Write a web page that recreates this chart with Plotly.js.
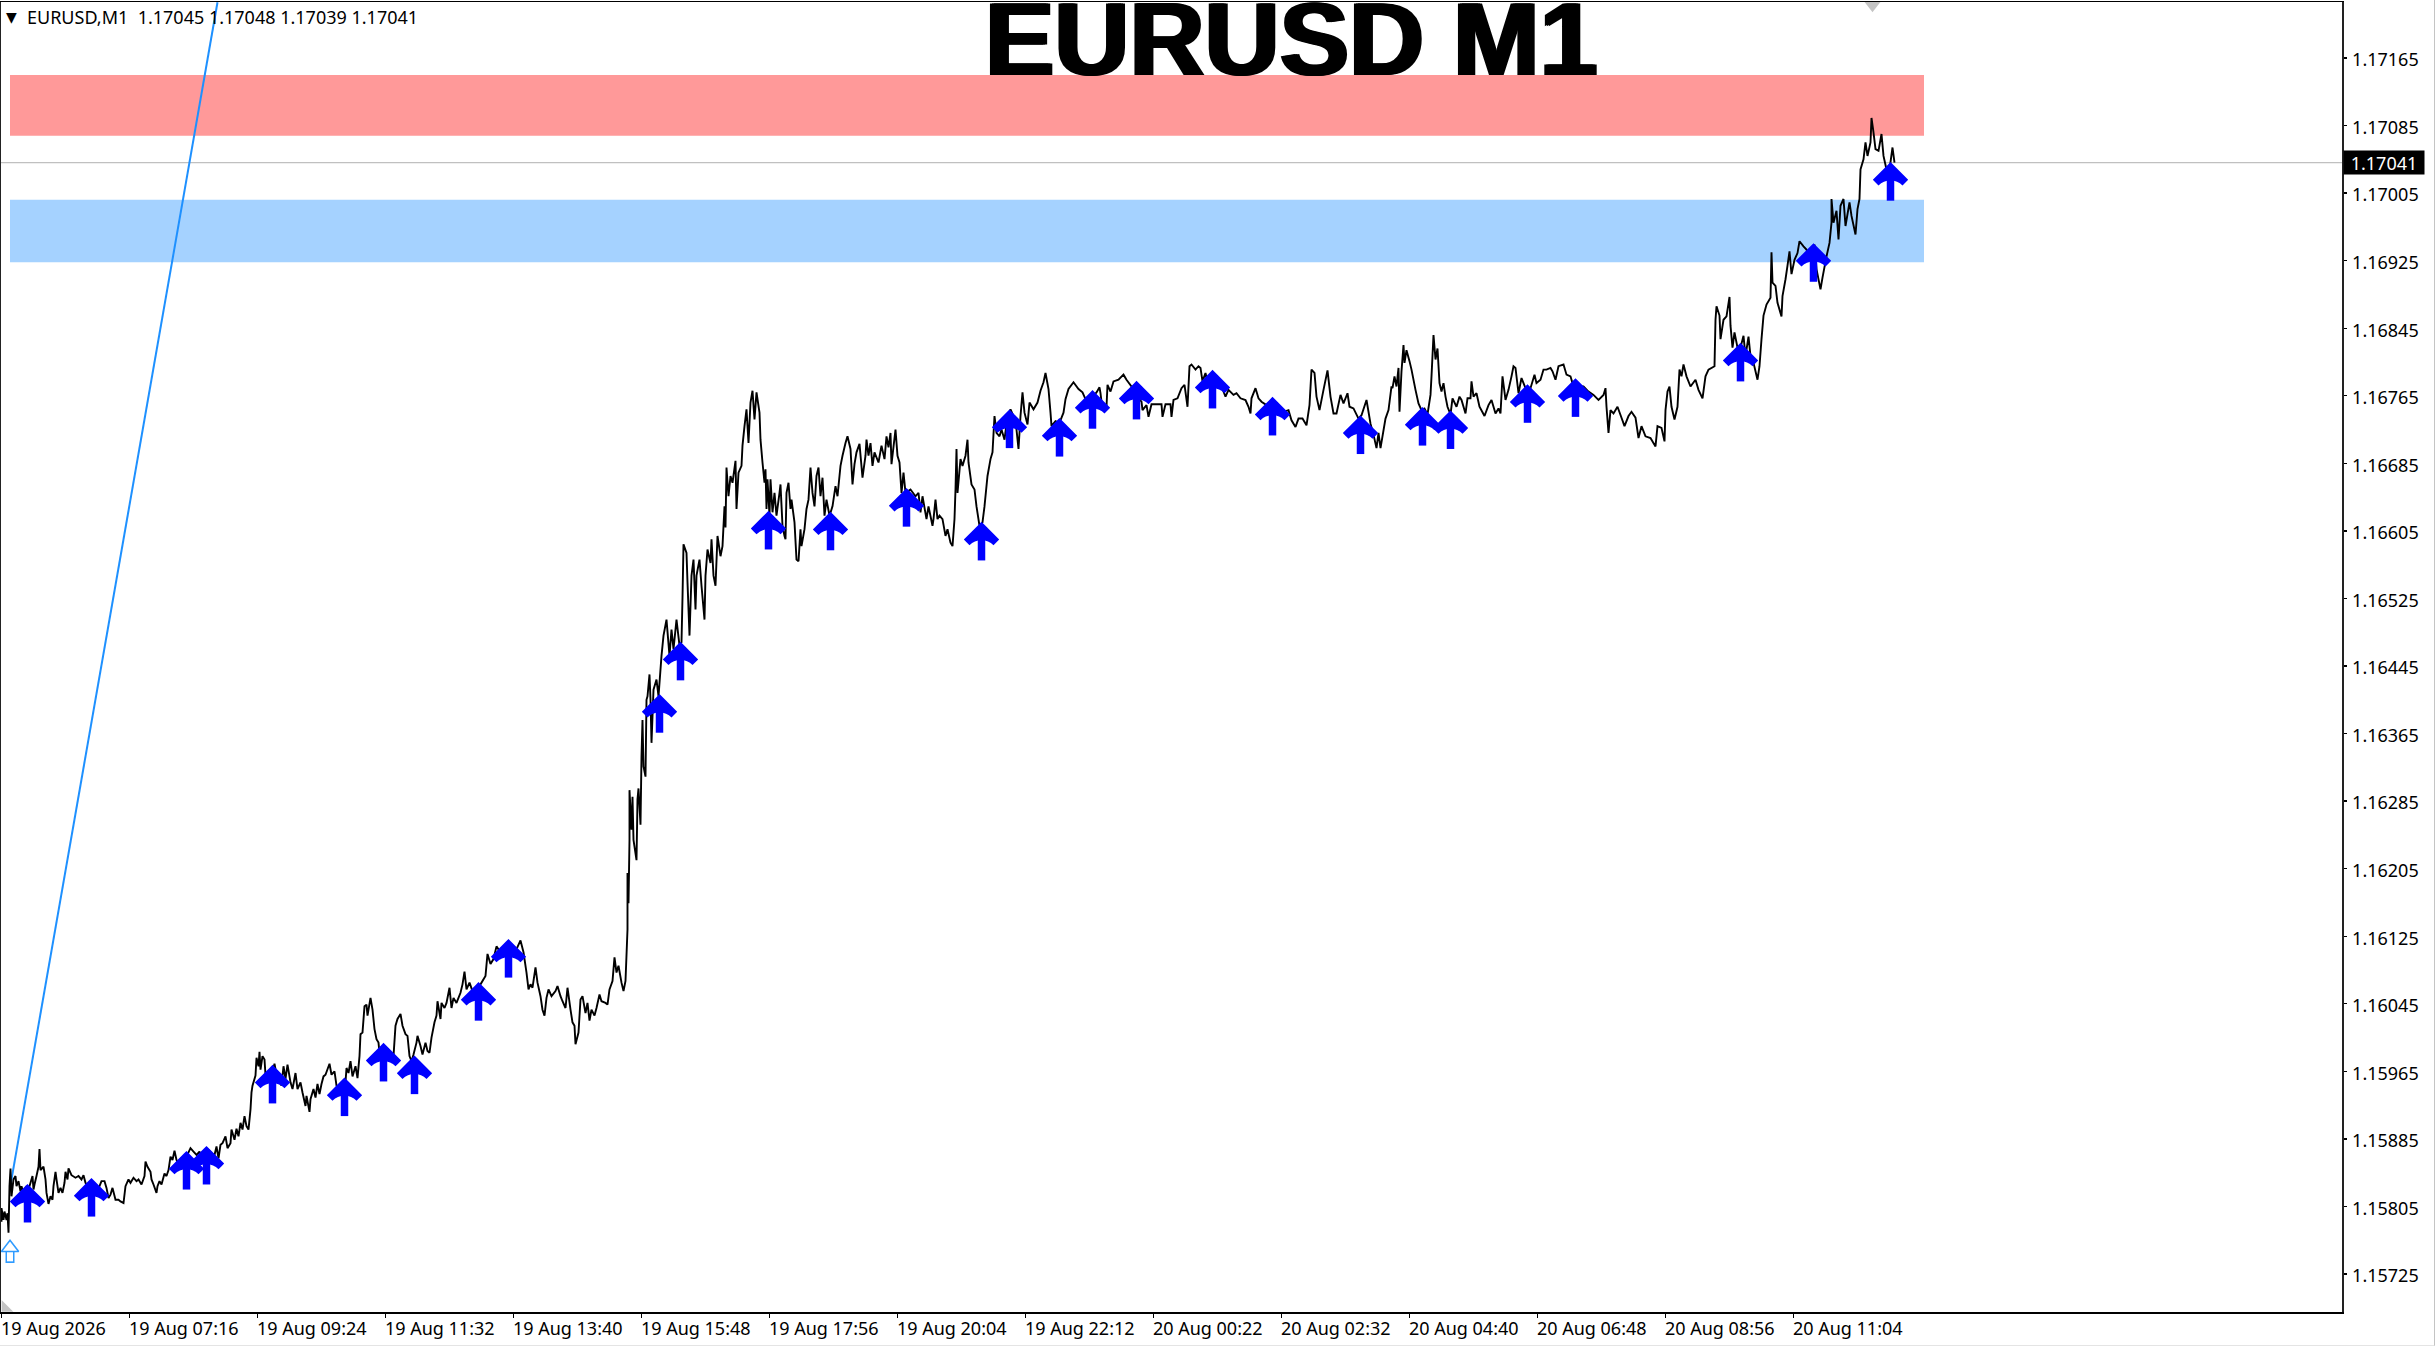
<!DOCTYPE html>
<html><head><meta charset="utf-8">
<script src="https://cdn.plot.ly/plotly-3.0.1.min.js"></script>
<style>html,body{margin:0;padding:0;background:#fff}#c{width:2434px;height:1345px;border-right:1px solid #c4c4c4;border-bottom:1px solid #e4e4e4}</style>
</head><body><div id="c"></div>
<script>
// Price path: bar number (minutes from the first bar) and price in 1/100000 above 1.
const pathBars = [0,0,2,3,5,6,7,8,9,10,12,14,15,17,19,20,22,25,27,29,31,32,33,35,37,38,39,42,44,45,47,49,51,52,54,55,57,59,61,63,64,66,67,70,74,77,80,82,84,86,89,92,95,98,100,103,105,107,109,111,114,117,119,122,124,127,129,132,135,137,140,143,144,146,149,150,152,155,156,158,160,163,165,167,169,171,173,175,177,180,183,185,189,192,195,198,200,203,207,210,213,215,217,219,221,224,226,229,230,233,235,237,239,241,243,245,247,
249,250,251,254,255,257,258,259,261,263,264,267,270,273,275,277,280,282,284,286,289,291,294,296,299,301,304,305,308,309,312,314,316,318,320,322,324,328,330,333,335,340,344,345,347,349,351,354,356,358,359,361,363,365,366,369,371,373,375,377,378,382,387,392,394,396,399,401,404,406,408,410,412,415,416,419,421,424,426,428,430,433,435,436,439,440,443,445,448,450,452,455,459,461,463,465,468,471,475,479,484,486,489,492,495,499,502,509,514,519,522,525,527,529,531,534,536,539,541,543,545,547,550,554,556,559,561,564,566,569,571,573,574,577,579,581,584,586,588,590,593,595,598,600,604,606,608,611,613,615,617,620,622,624,626,
626,627,628,628,630,631,632,633,635,636,637,639,640,641,642,644,645,646,648,649,650,652,655,657,
660,662,665,668,670,672,675,678,680,681,682,685,686,688,690,692,694,695,698,700,703,704,706,709,710,712,714,716,719,721,723,724,725,727,729,731,734,735,737,740,741,743,745,747,749,751,753,755,758,759,761,763,764,765,766,768,769,771,773,775,778,779,781,783,784,785,787,789,790,793,795,797,799,800,803,805,807,809,811,813,815,817,819,821,823,825,828,831,834,836,839,841,844,846,849,851,853,855,858,861,864,865,867,869,871,873,877,880,883,885,887,889,890,894,896,898,900,902,904,909,914,917,919,921,925,927,931,932,934,936,938,941,944,946,949,951,953,954,955,956,959,961,964,966,967,970,973,975,978,981,983,986,989,991,993,995,998,1000,1003,1006,1009,1012,1015,1017,1019,1021,1023,1026,1028,1032,1036,1039,1042,1044,1047,1049,1050,1054,1058,1062,1064,1067,1072,1077,1081,1084,1089,1092,1095,1098,
1099,1100,1105,1106,1109,1112,1117,1122,1125,1130,1137,1140,1141,1145,1147,1150,1156,1160,1161,1164,1169,1170,1172,1176,1180,1183,1186,1188,1190,1194,1197,1199,1201,1204,1206,1210,1215,1220,1224,1227,1232,1235,1239,1244,1247,1249,1250,1254,1257,1260,1265,1270,1275,1282,1287,1290,1294,1297,1301,1305,1308,1310,1313,1315,1318,1322,1326,1329,1332,1335,1339,1342,1346,1348,1352,1357,1360,1365,1369,1372,1375,1377,1379,1384,1387,1390,
1391,1393,1395,1397,1398,1400,1402,1403,1405,1408,1410,1414,1417,1420,1423,1426,1429,1430,1432,1434,1436,1438,1440,1442,1444,1446,1449,1451,1455,1458,1460,1464,1466,1469,1470,1472,1475,1478,1483,1487,1490,1494,1497,1499,1501,1504,1507,1510,1512,1514,1517,1520,1524,1529,1533,1535,1539,1542,1545,1549,1551,1554,1557,1562,1565,1569,1571,1575,1582,1587,1592,1597,1602,1604,1605,1607,1609,1612,1616,1620,1623,1627,1630,1634,1637,1640,1644,1649,1654,1656,1660,1663,1664,1666,1668,1670,1673,1676,1678,1680,1682,1685,1689,1694,1697,1701,1704,1707,1713,1714,
1715,1718,1719,1722,1725,1728,1729,1731,1733,1736,1739,1742,1744,1747,1749,1752,1756,1758,1760,1762,1765,1769,1770,1771,1774,1776,1780,1781,1784,1786,1788,1790,1793,1796,1798,1802,1805,1809,1813,1815,1819,1821,1825,1828,1830,1830,1832,1835,1837,1839,1842,1844,1848,1850,1854,1856,1858,1859,1862,1864,1866,1869,1870,1872,1874,1877,1880,1882,1885,1888,1891,1893];
const pathPips = [15787,15803,15789,15799,15789,15797,15774,15829,15850,15817,15837,15841,15829,15835,15823,15829,15821,15829,15825,15833,15841,15825,15831,15841,15852,15873,15848,15852,15837,15821,15808,15817,15813,15829,15846,15837,15821,15827,15821,15833,15846,15837,15850,15842,15839,15841,15837,15842,15833,15829,15825,15819,15821,15829,15835,15835,15827,15815,15819,15827,15813,15813,15811,15809,15829,15837,15833,15839,15835,15837,15831,15841,15858,15852,15846,15837,15831,15821,15829,15835,15831,15844,15841,15848,15864,15860,15871,15860,15856,15862,15860,15864,15874,15870,15866,15870,15860,15866,15872,15868,15866,15876,15862,15878,15880,15888,15874,15880,15896,15884,15897,15888,15904,15896,15912,15900,15896,
15920,15940,15948,15960,15981,15971,15988,15967,15983,15979,15961,15952,15960,15974,15961,15955,15948,15971,15956,15973,15952,15944,15963,15944,15952,15940,15924,15936,15917,15932,15944,15934,15950,15938,15950,15959,15961,15974,15961,15965,15948,15940,15952,15969,15963,15977,15959,15971,15957,15983,16009,16011,16042,16044,16031,16052,16038,16015,16003,15999,15987,15979,15979,15983,16019,16027,16033,16019,16009,16007,15983,15977,15985,15999,16007,15995,15985,15999,15989,15987,16005,16023,16031,16048,16027,16046,16040,16046,16064,16040,16052,16046,16058,16068,16083,16062,16070,16060,16062,16068,16078,16104,16092,16098,16113,16106,16109,16113,16107,16120,16106,16082,16062,16068,16064,16088,16070,16054,16038,16031,16052,16062,16054,16060,16066,16054,16048,16040,16064,16038,16023,16019,15997,16011,16050,16054,16034,16046,16025,16038,16031,16040,16056,16048,16046,16044,16062,16072,16100,16082,16090,16070,16060,16072,16133,
16200,16164,16239,16298,16251,16290,16239,16231,16215,16287,16300,16257,16338,16381,16326,16314,16405,16409,16435,16405,16354,16417,16429,16409,
16457,16481,16500,16457,16488,16465,16500,16469,16473,16526,16589,16579,16544,16481,16552,16571,16512,16552,16571,16540,16500,16552,16583,16567,16595,16552,16540,16599,16575,16587,16634,16609,16680,16646,16670,16662,16688,16631,16674,16682,16706,16729,16749,16709,16757,16771,16737,16769,16745,16713,16686,16662,16678,16631,16666,16623,16666,16627,16650,16623,16650,16660,16611,16599,16595,16650,16662,16631,16642,16615,16571,16569,16607,16587,16607,16631,16642,16680,16650,16634,16670,16680,16646,16668,16623,16642,16623,16634,16658,16646,16682,16694,16709,16717,16702,16660,16684,16698,16708,16668,16694,16713,16694,16709,16682,16698,16686,16706,16690,16717,16704,16721,16684,16725,16694,16686,16650,16674,16650,16654,16646,16650,16627,16646,16619,16634,16611,16619,16642,16619,16623,16619,16599,16607,16591,16587,16619,16654,16702,16650,16690,16682,16694,16713,16686,16660,16654,16634,16611,16615,16634,16670,16690,16698,16741,16721,16717,16725,16713,16741,16749,16741,16725,16702,16741,16769,16745,16731,16757,16749,16757,16771,16781,16792,16773,16745,16729,16735,16733,16745,16761,16773,16781,16773,16769,16761,16765,16765,16769,16775,
16768,16758,16752,16778,16770,16782,16784,16790,16784,16776,16762,16758,16748,16754,16740,16755,16755,16755,16740,16755,16755,16740,16760,16762,16774,16778,16752,16800,16802,16796,16800,16798,16782,16792,16782,16778,16776,16776,16764,16772,16766,16768,16762,16760,16752,16744,16762,16774,16762,16758,16754,16758,16752,16746,16748,16736,16728,16738,16738,16730,16754,16796,16792,16764,16748,16772,16795,16764,16744,16744,16766,16756,16768,16752,16750,16738,16742,16760,16732,16719,16703,16721,16703,16738,16748,16776,
16774,16788,16776,16798,16746,16794,16825,16804,16819,16806,16796,16772,16756,16748,16750,16743,16766,16788,16837,16808,16821,16780,16770,16780,16764,16752,16743,16762,16752,16764,16760,16744,16762,16762,16782,16764,16768,16752,16741,16754,16760,16744,16750,16744,16788,16760,16772,16788,16800,16798,16768,16786,16774,16774,16790,16780,16784,16796,16796,16798,16794,16784,16800,16802,16790,16788,16780,16776,16776,16770,16766,16760,16766,16774,16752,16721,16748,16744,16752,16739,16729,16741,16746,16739,16715,16729,16717,16715,16705,16729,16727,16711,16748,16770,16776,16752,16737,16752,16796,16788,16802,16788,16776,16784,16772,16762,16788,16796,16800,16855,
16871,16860,16832,16855,16859,16882,16848,16822,16840,16822,16822,16836,16812,16835,16812,16804,16784,16800,16832,16860,16873,16881,16935,16899,16895,16875,16859,16883,16903,16919,16936,16909,16926,16934,16948,16942,16938,16930,16944,16915,16891,16905,16930,16946,16970,16998,16970,16984,16950,16990,16998,16966,16994,16978,16956,16986,16998,17033,17045,17065,17049,17065,17094,17077,17057,17055,17075,17049,17033,17033,17059,17041];

const arrowBars = [26,90,185,205,271,343,382,413,477,507,658,679,767,829,905,980,1008,1058,1091,1135,1211,1271,1359,1421,1449,1526,1574,1739,1812,1889];
const arrowPips = [15825,15832,15864,15870,15966,15951,15992,15977,16064,16115,16405,16467,16622,16621,16649,16609,16742,16732,16765,16776,16789,16757,16735,16745,16741,16772,16779,16821,16939,17035];
const arrowStemPips = 39;

const trendBars = [8.5,216];
const trendPips = [15827,17231];
const hollowBar = [8.5];
const hollowHeadPips = [15756];
const hollowStemPips = [15752];

const supplyZone = {bars:[8.5,1922.5], pips:[17073,17145]};
const demandZone = {bars:[8.5,1922.5], pips:[16923,16997]};

const bidPips = 17041;
const chartTitle = 'EURUSD M1';
const infoLine = 'EURUSD,M1  1.17045 1.17048 1.17039 1.17041';

const timeTickBars = [0,128,256,384,512,640,768,896,1024,1152,1280,1408,1536,1664,1792];
const timeTickLabels = ['19 Aug 2026','19 Aug 07:16','19 Aug 09:24','19 Aug 11:32','19 Aug 13:40','19 Aug 15:48','19 Aug 17:56','19 Aug 20:04','19 Aug 22:12','20 Aug 00:22','20 Aug 02:32','20 Aug 04:40','20 Aug 06:48','20 Aug 08:56','20 Aug 11:04'];
const priceTickPips = [15725,15805,15885,15965,16045,16125,16205,16285,16365,16445,16525,16605,16685,16765,16845,16925,17005,17085,17165];

const px = p => 1 + p / 100000;
const FONT = '"Noto Sans", "Liberation Sans", sans-serif';
const HOLLOW = '#2f9bff';
const stem = (len,thick,color) => ({x:hollowBar, y:hollowStemPips.map(px), mode:'markers', marker:{size:1,opacity:0}, hoverinfo:'skip',
   error_y:{type:'data',symmetric:false,array:[0],arrayminus:[len/100000],width:0,thickness:thick,color:color}});

const traces = [
  {x:[-0.5,2340.5], y:[bidPips,bidPips].map(px), mode:'lines', line:{color:'#c0c0c0',width:1.3}, hoverinfo:'skip'},
  {x:trendBars, y:trendPips.map(px), mode:'lines', line:{color:'#1e90ff',width:2}, hoverinfo:'skip'},
  {x:pathBars, y:pathPips.map(px), mode:'lines', line:{color:'#000',width:1.9,simplify:false}, hoverinfo:'skip'},
  {x:arrowBars, y:arrowPips.map(px), mode:'markers', hoverinfo:'skip',
   marker:{symbol:'arrow-wide-open',size:21,color:'#0000ff',line:{color:'#0000ff',width:8}},
   error_y:{type:'data',symmetric:false,array:arrowBars.map(()=>0),arrayminus:arrowBars.map(()=>arrowStemPips/100000),width:0,thickness:7.5,color:'#0000ff'}},
  stem(14,9,HOLLOW),
  stem(12,6,'#ffffff'),
  {x:hollowBar, y:hollowHeadPips.map(px), mode:'markers', hoverinfo:'skip',
   marker:{symbol:'triangle-up',size:15,color:'#ffffff',line:{color:HOLLOW,width:1.6}}},
  {x:[1871], y:[17228].map(px), mode:'markers', marker:{symbol:'triangle-down',size:15,color:'#c4c4c4'}, hoverinfo:'skip'},
  {x:[4], y:[15685].map(px), mode:'markers', marker:{symbol:'triangle-sw',size:13,color:'#c4c4c4'}, hoverinfo:'skip'}
];

const band = (z,color) => ({type:'rect',layer:'below',xref:'x',yref:'y',x0:z.bars[0],x1:z.bars[1],y0:px(z.pips[0]),y1:px(z.pips[1]),fillcolor:color,line:{width:0}});

const layout = {
  width:2434,height:1345,showlegend:false,hovermode:false,
  paper_bgcolor:'#fff',plot_bgcolor:'#fff',
  margin:{l:1,r:92,t:2,b:33,pad:0},
  font:{family:FONT,size:18,color:'#000'},
  xaxis:{range:[-0.5,2340.5],showgrid:false,zeroline:false,showline:true,mirror:true,linecolor:'#000',linewidth:1.5,
    tickmode:'array',tickvals:timeTickBars,ticktext:timeTickLabels,ticks:'outside',ticklen:4,tickcolor:'#000',tickwidth:1.3,
    ticklabelposition:'outside right',ticklabelshift:-2,tickangle:0,tickfont:{family:FONT,size:18,color:'#000'}},
  yaxis:{range:[px(15680),px(17231.3)],side:'right',showgrid:false,zeroline:false,showline:true,mirror:true,linecolor:'#222',linewidth:1.5,
    tickmode:'array',tickvals:priceTickPips.map(px),tickformat:'.5f',ticks:'outside',ticklen:3,tickcolor:'#000',tickwidth:1.3,
    ticklabelstandoff:2,ticklabelshift:2,tickfont:{family:FONT,size:18,color:'#000'}},
  shapes:[band(supplyZone,'#ff9999'),band(demandZone,'#a5d2ff')],
  annotations:[
    {xref:'paper',yref:'paper',x:0.5512,y:0.9715,xanchor:'center',yanchor:'middle',showarrow:false,text:chartTitle,
     font:{family:'"Liberation Sans"',size:104,color:'#000',weight:700,shadow:'2px 0 0 #000,-2px 0 0 #000'}},
    {xref:'paper',yref:'paper',x:0.0104,y:0.9885,xanchor:'left',yanchor:'middle',showarrow:false,text:infoLine.replace(/ /g,'\u00a0'),
     font:{family:FONT,size:18,color:'#000'}},
    {xref:'paper',yref:'paper',x:0.0046,y:0.9885,xanchor:'center',yanchor:'middle',showarrow:false,text:'▼',
     font:{family:'"DejaVu Sans"',size:14,color:'#000'}},
    {xref:'paper',yref:'y',x:1,y:px(bidPips),xanchor:'left',yanchor:'middle',xshift:1,showarrow:false,text:(px(bidPips)).toFixed(5),
     bgcolor:'#000',width:80,height:23,align:'center',borderpad:0,font:{family:FONT,size:18,color:'#fff'}}
  ]
};
Plotly.newPlot('c',traces,layout,{displayModeBar:false,staticPlot:true});
</script></body></html>
